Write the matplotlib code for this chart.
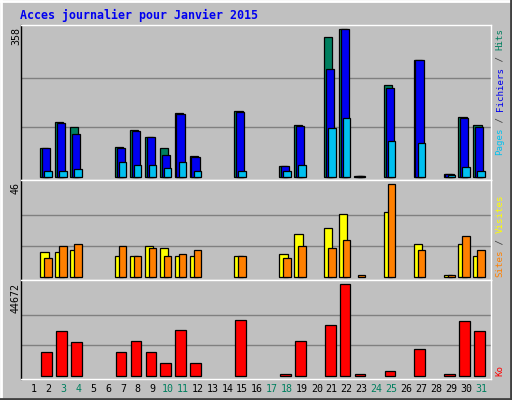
import matplotlib
matplotlib.use("Agg")
import matplotlib.pyplot as plt
import numpy as np

days = [str(d) for d in range(1, 32)]
weekend = [3, 4, 10, 11, 17, 18, 24, 25, 31]
hits =    [0,69,132,120,0,0,71,113,96,69,154,49,0,0,159,0,0,25,125,0,339,358,2,0,222,0,283,0,6,144,125]
files =   [0,69,130,103,0,0,69,110,96,52,151,47,0,0,156,0,0,25,122,0,261,358,1,0,215,0,283,0,6,142,120]
pages =   [0,15,15,18,0,0,35,28,28,20,35,13,0,0,13,0,0,15,28,0,117,142,1,0,86,0,81,0,5,23,13]
visitors =[0,12,12,13,0,0,10,10,15,14,10,10,0,0,10,0,0,11,21,0,24,31,0,0,32,0,16,0,1,16,10]
visits =  [0,9,15,16,0,0,15,10,14,10,11,13,0,0,10,0,0,9,15,0,14,18,1,0,46,0,13,0,1,20,13]
kb =      [0,11413,21684,16304,0,0,11413,16793,11413,6032,22173,6032,0,0,27064,0,0,800,16793,0,24618,44672,800,0,2120,0,12880,0,800,26575,21684]

W, H = 512, 400
fig = plt.figure(figsize=(W/100, H/100), dpi=100)
fig.patch.set_facecolor("#c0c0c0")
mono = "DejaVu Sans Mono"

def ax_px(l, t, r, b):
    return fig.add_axes([l/W, 1-b/H, (r-l)/W, (b-t)/H])

fig.add_artist(plt.Line2D([1/W,1/W],[0,1], color="white", lw=2, transform=fig.transFigure))
fig.add_artist(plt.Line2D([0,1],[1-1/H,1-1/H], color="white", lw=2, transform=fig.transFigure))
fig.add_artist(plt.Line2D([1-1/W,1-1/W],[0,1], color="#404040", lw=2, transform=fig.transFigure))
fig.add_artist(plt.Line2D([0,1],[1/H,1/H], color="#404040", lw=2, transform=fig.transFigure))

x = np.arange(31)
C_H, C_F, C_P = "#007f5f", "#0000f0", "#00c0f0"
C_Y, C_O, C_R = "#ffff00", "#ff8000", "#ff0000"

def nz(v):
    a = np.array(v, dtype=float)
    m = a > 0
    return x[m], a[m]

def style(ax, lo, hi, mx):
    ax.set_facecolor("#c0c0c0")
    ax.set_xlim(-0.86, 30.64)
    ax.set_ylim(lo, hi)
    ax.set_xticks([]); ax.set_yticks([])
    for g in (mx/3, 2*mx/3):
        ax.axhline(g, color="#808080", lw=1, zorder=0)
    for s in ("top", "right", "bottom"):
        ax.spines[s].set_color("white")
    ax.spines["left"].set_color("black")
    for s in ax.spines.values():
        s.set_linewidth(1)

ekw = dict(edgecolor="black", linewidth=0.9, align="edge")
def bars(ax, v, off, w, c):
    xx, vv = nz(v)
    ax.bar(xx+off, vv, w, color=c, **ekw)

a1 = ax_px(20.5, 25, 491, 180)
style(a1, -8, 367.7, 358)
bars(a1, hits, -0.54, 0.55, C_H)
bars(a1, files, -0.42, 0.55, C_F)
bars(a1, pages, -0.27, 0.5, C_P)

a2 = ax_px(20.5, 180, 491, 280)
style(a2, -1.64, 47.84, 46)
bars(a2, visitors, -0.54, 0.56, C_Y)
bars(a2, visits, -0.27, 0.5, C_O)

a3 = ax_px(20.5, 280, 491, 379)
style(a3, -1613, 46774, 44672)
bars(a3, kb, -0.49, 0.72, C_R)

fig.text(20/W, 1-15.5/H, "Acces journalier pour Janvier 2015", color="#0000f0",
         fontsize=8.4, fontweight="bold", family=mono, va="center")

for lbl, ytop in (("358", 27), ("46", 182), ("44672", 283)):
    fig.text(16/W, 1-ytop/H, lbl, rotation=90, fontsize=7.2, family=mono, ha="center", va="top")

def vlabel(parts, ybottom):
    cw = 5.5
    y = ybottom
    for t, c in parts:
        fig.text(500/W, 1-y/H, t, rotation=90, rotation_mode="anchor", fontsize=6.6,
                 family=mono, color=c, ha="left", va="center")
        y -= cw*len(t)

vlabel([("Pages", C_P), (" / ", "#404040"), ("Fichiers", C_F), (" / ", "#404040"), ("Hits", C_H)], 155)
vlabel([("Sites", C_O), (" / ", "#404040"), ("Visites", C_Y)], 277)
vlabel([("Ko", C_R)], 376)

for i, d in enumerate(days):
    xp = (20.5 + (i + 0.86) * 14.92) / W
    fig.text(xp, 1-389/H, d, fontsize=7.2, family=mono, ha="center", va="center",
             color="#007f5f" if (i+1) in weekend else "black")

fig.savefig("out.png", dpi=100, facecolor=fig.get_facecolor())
